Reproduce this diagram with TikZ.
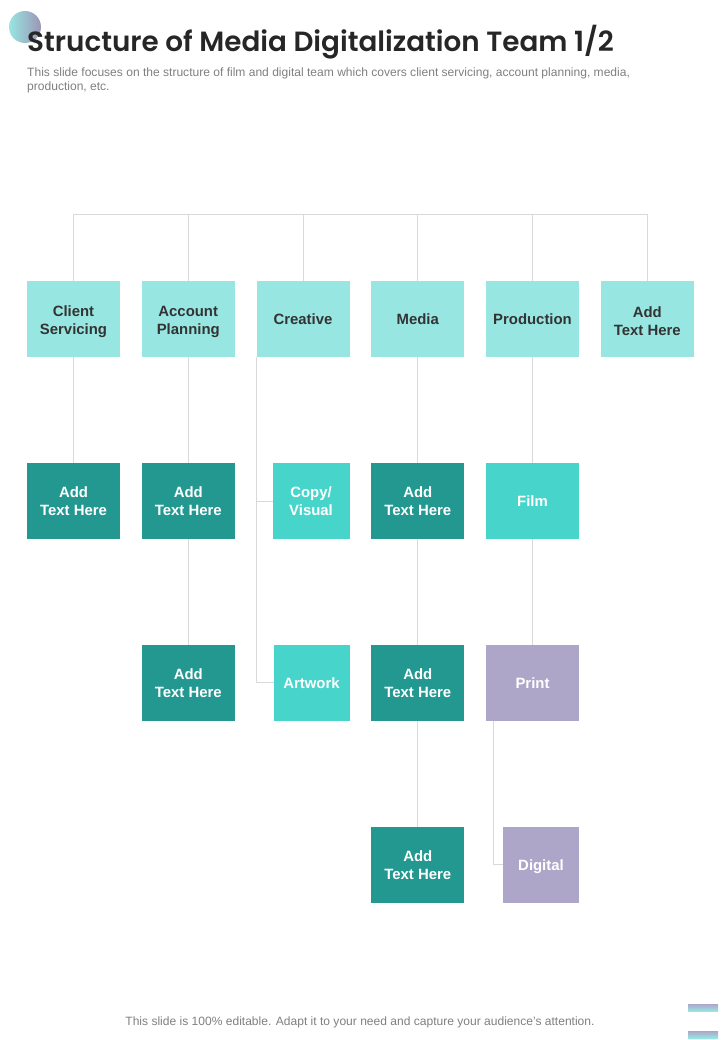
\documentclass[tikz,border=0pt]{standalone}
\usepackage{fontspec}
\setmainfont{Liberation Sans}
\newfontfamily\titlefont{Poppins SemiBold}
\usepackage{tikz}
\usetikzlibrary{positioning}
\definecolor{paleteal}{HTML}{97E6E2}
\definecolor{darkteal}{HTML}{239890}
\definecolor{midteal}{HTML}{47D5CB}
\definecolor{softpurple}{HTML}{AEA6C9}
\definecolor{wireline}{HTML}{D9D9D9}
\definecolor{greytext}{HTML}{7F7F7F}
\newcommand{\lowline}{\rule{0pt}{16pt}}

\begin{document}
\begin{tikzpicture}[
x=1pt, y=-1pt,
node distance=105.9pt and 21.75pt,
basenode/.style={rectangle, outer sep=0pt, minimum width=93pt, minimum height=76pt, inner sep=0pt, align=center, font=\fontsize{14.9}{18}\selectfont\bfseries},
headnode/.style={basenode, fill=paleteal, text=black!80},
teamnode/.style={basenode, fill=darkteal, text=white},
tealnode/.style={basenode, fill=midteal, text=white, minimum width=77pt},
purplenode/.style={basenode, fill=softpurple, text=white},
wire/.style={draw=wireline, line width=0.8pt},
smalltext/.style={inner sep=0pt, text=greytext, font=\fontsize{12.05}{14}\selectfont},
]
\useasboundingbox (0,0) rectangle (720,1040);

%Decor
\shade[left color=paleteal, right color=softpurple!90!black] (25,27) circle (16);
\shade[top color=softpurple, bottom color=paleteal, draw=none] (688,1004) rectangle (718,1011);
\shade[top color=softpurple, bottom color=paleteal, draw=none] (688,1031) rectangle (718,1038);

%Texts
\node[anchor=west, inner sep=0pt, text=black!85, font=\titlefont\fontsize{27.8}{34}\selectfont] (title) at (27,42) {Structure of Media Digitalization Team 1/2};
\node[smalltext, anchor=north west, align=left] (subtitle) at (27,67.5) {This slide focuses on the structure of film and digital team which covers client servicing, account planning, media,\\production, etc.};
\node[smalltext] (footer) at (360,1022.5) {This slide is 100\% editable. Adapt it to your need and capture your audience’s attention.};

%Nodes
\coordinate (busstart) at (73.5,214);
\node[headnode, anchor=north west] (client) at (27,281) {\lowline Client\\Servicing};
\node[headnode] (account)    [right=of client]  {\lowline Account\\Planning};
\node[headnode] (creative)   [right=of account] {Creative};
\node[headnode] (media)      [right=of creative] {Media};
\node[headnode] (production) [right=of media] {Production};
\node[headnode] (extra)      [right=of production] {\lowline Add\\Text Here};

\node[teamnode] (clientadd)   [below=of client]   {Add\\Text Here};
\node[teamnode] (accountone)  [below=of account]  {Add\\Text Here};
\node[teamnode] (accounttwo)  [below=of accountone] {Add\\Text Here};
\node[teamnode] (mediaone)    [below=of media]    {Add\\Text Here};
\node[teamnode] (mediatwo)    [below=of mediaone] {Add\\Text Here};
\node[teamnode] (mediathree)  [below=of mediatwo] {Add\\Text Here};

\node[tealnode, anchor=north east] (copy) at ([yshift=-105.9pt]creative.south east) {Copy/\\Visual};
\node[tealnode, anchor=north east, minimum width=76pt] (artwork) at ([yshift=-105.9pt]copy.south east) {Artwork};
\node[tealnode, minimum width=93pt] (film) [below=of production] {Film};
\node[purplenode] (print) [below=of film] {Print};
\node[purplenode, anchor=north east, minimum width=76pt, text depth=0pt] (digital) at ([yshift=-105.9pt]print.south east) {Digital};
\coordinate (printdrop) at ([xshift=7.5pt]print.south west);

%Lines
\draw[wire] (busstart) -- (busstart -| extra.north);
\foreach \top in {client,account,creative,media,production,extra}
  \draw[wire] (\top.north) -- (\top.north |- busstart);
\draw[wire] (client.south) -- (clientadd.north);
\draw[wire] (account.south) -- (accountone.north);
\draw[wire] (accountone.south) -- (accounttwo.north);
\draw[wire] (media.south) -- (mediaone.north);
\draw[wire] (mediaone.south) -- (mediatwo.north);
\draw[wire] (mediatwo.south) -- (mediathree.north);
\draw[wire] (production.south) -- (film.north);
\draw[wire] (film.south) -- (print.north);
\draw[wire] (creative.south west) |- (copy.west);
\draw[wire] (creative.south west) |- (artwork.west);
\draw[wire] (printdrop) |- (digital.west);

\end{tikzpicture}
\end{document}
